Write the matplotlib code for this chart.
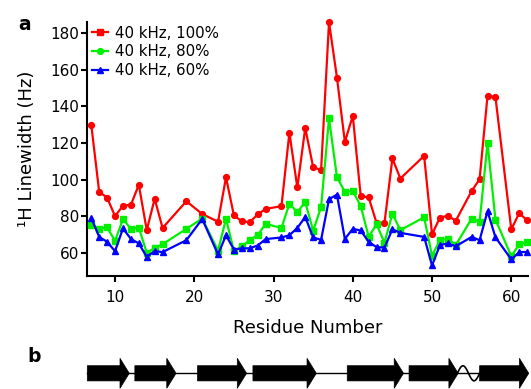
import numpy as np
import matplotlib
matplotlib.use("Agg")
import matplotlib.pyplot as plt
from matplotlib.lines import Line2D
from matplotlib.patches import Polygon

plt.rcParams['font.family'] = ['DejaVu Sans']

residues = [7, 8, 9, 10, 11, 12, 13, 14, 15, 16, 19, 21, 23, 24, 25, 26, 27, 28, 29,
            31, 32, 33, 34, 35, 36, 37, 38, 39, 40, 41, 42, 43, 44, 45, 46,
            49, 50, 51, 52, 53, 55, 56, 57, 58, 60, 61, 62]

lw_100 = [130, 93.3, 90.2, 80, 85.8, 86.2, 97.2, 72.4, 89.5, 73.6, 88.2, 81.2, 77, 101.3,
          80.4, 77.2, 76.8, 81, 84, 85.5, 125.6, 95.7, 128.2, 106.8, 105.2, 186, 155.8,
          120.6, 134.9, 90.9, 90.3, 76.3, 76.4, 111.6, 100.6, 113, 70.1, 79.3, 80.2, 77.6,
          93.8, 100.2, 145.8, 145.1, 72.8, 81.7, 77.7]

lw_80 = [75.2, 73.2, 73.9, 66.5, 78.4, 73.1, 73.8, 60, 62.6, 64.7, 73.1, 78.7, 61.2, 78.6,
         61, 63.5, 67, 69.7, 75.8, 73.6, 86.8, 82.3, 87.7, 72.1, 85, 133.5, 101.4, 93.3,
         93.8, 85.6, 68.8, 75.5, 65.6, 81.3, 72.4, 79.4, 58.3, 67.1, 67.6, 64.3, 78.7, 76.9,
         120, 78.2, 58.2, 64.6, 65.8]

lw_60 = [79.1, 68.7, 66, 60.9, 73.3, 67.6, 65.1, 57.8, 60.9, 60.4, 66.9, 78.5, 59.1, 69.6,
         61.8, 62.4, 62.5, 64, 67.5, 68.4, 69.6, 73.6, 79.6, 68.4, 67.1, 89.3, 91.8, 67.6,
         73.1, 72.2, 66, 63.1, 62.9, 72.9, 70.9, 68.7, 53.1, 64.3, 65.1, 63.6, 68.7, 66.9,
         82.7, 68.5, 56.4, 60.4, 60.5]

series_labels = ['40 kHz, 100%', '40 kHz, 80%', '40 kHz, 60%']
x_ticks = [10, 20, 30, 40, 50, 60]
y_ticks = [60, 80, 100, 120, 140, 160, 180]

# secondary structure (residue numbers): strand start and arrow tip
strand_start = [6.5, 12.5, 20.4, 27.4, 39.3, 47.1, 56.0]
strand_tip = [11.8, 17.7, 26.6, 35.4, 46.4, 53.3, 62.2]
turn_range = [53.2, 56.0]

W, H = 531, 389
fig = plt.figure(figsize=(W / 100, H / 100), dpi=100)

x0, x1 = 87.3, 527.7
ytop, ybot = 21.7, 275.7
ax = fig.add_axes([x0 / W, 1 - ybot / H, (x1 - x0) / W, (ybot - ytop) / H])

red, green, blue = '#FF0000', '#00F000', '#0000FF'
ms = 4.2
ax.plot(residues, lw_100, '-o', color=red, lw=1.6, ms=ms, clip_on=False, zorder=3)
ax.plot(residues, lw_80, '-s', color=green, lw=1.6, ms=ms, clip_on=False, zorder=3)
ax.plot(residues, lw_60, '-^', color=blue, lw=1.6, ms=ms + 0.3, clip_on=False, zorder=3)

ax.set_xlim(6.5, 62.07)
ax.set_ylim(47.5, 186.3)
ax.set_xticks(x_ticks)
ax.set_yticks(y_ticks)
for s in ['top', 'right']:
    ax.spines[s].set_visible(False)
for s in ['left', 'bottom']:
    ax.spines[s].set_linewidth(1.5)
ax.tick_params(axis='both', direction='out', length=4.5, width=1.5, labelsize=11)
ax.tick_params(axis='y', pad=1.2)
ax.tick_params(axis='x', pad=6)
ax.set_xlabel('Residue Number', fontsize=13, labelpad=10)
ax.set_ylabel('\u00b9H Linewidth (Hz)', fontsize=13, labelpad=10)

handles = [Line2D([], [], color=red, marker='s', lw=1.6, ms=ms),
           Line2D([], [], color=green, marker='o', lw=1.6, ms=ms),
           Line2D([], [], color=blue, marker='^', lw=1.6, ms=ms)]
ax.legend(handles, series_labels, loc='upper left', bbox_to_anchor=(-0.01, 1.02),
          frameon=False, fontsize=10.8, handlelength=1.1, handletextpad=0.45,
          labelspacing=0.25, borderaxespad=0.2)

fig.text(18 / W, 1 - 24 / H, 'a', fontsize=13.5, fontweight='bold', va='center', ha='left')
fig.text(27 / W, 1 - 356 / H, 'b', fontsize=13.5, fontweight='bold', va='center', ha='left')

# panel b: secondary structure
axb = fig.add_axes([x0 / W, 0, (x1 - x0) / W, 45 / H])
axb.set_xlim(6.5, 62.07)
axb.set_ylim(389, 344)
axb.axis('off')
yc = 373.3
body = 7.6
head = 15
px_per_res = (x1 - x0) / (62.07 - 6.5)
head_len = 9.3 / px_per_res
axb.plot([strand_start[0], strand_tip[-1] - 0.5], [yc, yc], color='black', lw=1.0, clip_on=False)
for s, t in zip(strand_start, strand_tip):
    b = t - head_len
    poly = Polygon([[s, yc - body], [b, yc - body], [b, yc - head], [t, yc],
                    [b, yc + head], [b, yc + body], [s, yc + body]],
                   closed=True, facecolor='black', edgecolor='black', lw=0.5, clip_on=False)
    axb.add_patch(poly)
tx = np.linspace(turn_range[0], turn_range[1], 60)
ty = yc - 7.5 * np.sin(2 * np.pi * (tx - turn_range[0]) / (turn_range[1] - turn_range[0]))
axb.plot(tx, ty, color='black', lw=1.2, clip_on=False, zorder=0)

fig.savefig('out.png', dpi=100)
